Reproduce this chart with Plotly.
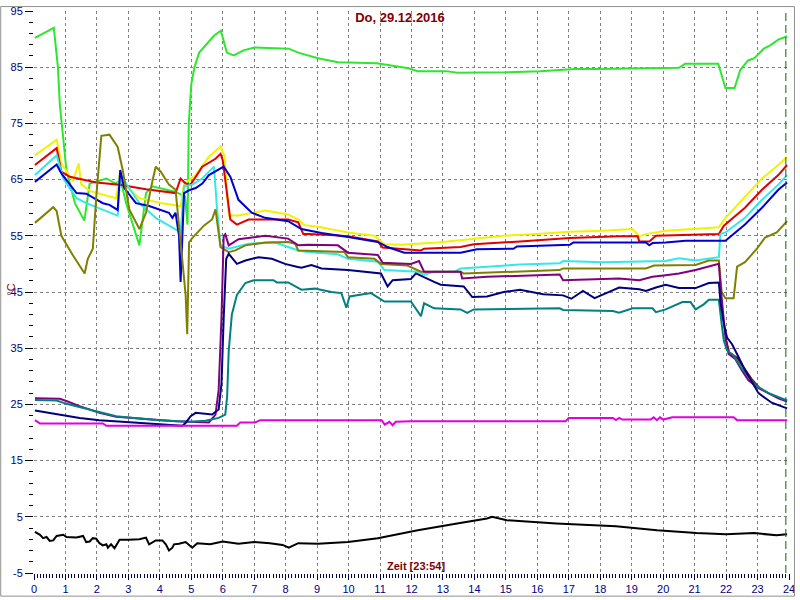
import plotly.graph_objects as go

# ---------------- data (hour of day, °C) ----------------
green_x = [0.03, 0.63, 0.76, 0.82, 1.03, 1.3, 1.6, 1.77, 2.3, 2.6, 2.75, 2.93, 3.35, 3.56, 3.76, 4.5, 4.8, 4.88, 4.92, 5.0, 5.1, 5.25, 5.72, 5.94, 6.13, 6.35, 6.66, 7.0, 8.1, 8.4, 9.03, 9.66, 10.9, 11.2, 11.9, 12.2, 13.1, 13.45, 14.7, 15.03, 16.1, 17.2, 17.9, 20.5, 20.7, 21.75, 21.98, 22.27, 22.45, 22.7, 22.9, 23.2, 23.4, 23.66, 23.94]
green_y = [90.2, 92.0, 85.0, 78.4, 66.7, 60.8, 57.7, 64.3, 65.2, 64.3, 65.0, 60.8, 53.3, 62.6, 63.8, 62.8, 62.0, 57.0, 75.0, 82.0, 85.0, 87.6, 90.6, 91.5, 87.6, 87.1, 88.0, 88.5, 88.3, 87.6, 86.6, 85.9, 85.7, 85.4, 84.8, 84.3, 84.3, 84.0, 84.0, 84.1, 84.3, 84.7, 84.7, 84.9, 85.6, 85.6, 81.3, 81.3, 84.5, 86.2, 86.6, 88.3, 88.9, 89.9, 90.5]

yellow_x = [0.03, 0.72, 0.87, 1.24, 1.42, 1.5, 1.77, 2.61, 2.74, 2.93, 3.35, 4.07, 4.66, 4.77, 4.93, 5.14, 5.56, 5.93, 6.06, 6.19, 6.5, 6.92, 7.35, 8.08, 8.4, 8.6, 9.03, 9.98, 10.82, 11.14, 11.66, 12.82, 13.87, 14.93, 15.98, 17.03, 18.08, 19.03, 19.24, 19.45, 20.08, 21.77, 21.98, 22.6, 23.14, 23.66, 23.94]
yellow_y = [69.3, 72.1, 67.9, 64.7, 67.9, 64.2, 63.0, 61.7, 66.4, 63.8, 61.7, 60.8, 60.3, 64.3, 64.9, 65.8, 69.1, 70.9, 69.1, 58.6, 58.6, 59.1, 59.5, 58.8, 57.9, 56.9, 56.6, 55.6, 55.0, 53.5, 53.4, 53.8, 54.4, 55.0, 55.3, 55.7, 55.9, 56.2, 54.9, 55.3, 55.9, 56.5, 58.2, 62.0, 65.2, 67.6, 69.0]

red_x = [0.03, 0.72, 0.87, 1.14, 1.98, 2.72, 3.56, 4.5, 4.66, 4.82, 4.98, 5.35, 5.77, 5.93, 6.0, 6.24, 6.45, 6.82, 8.08, 8.4, 8.56, 8.72, 9.56, 9.98, 10.93, 11.08, 12.3, 12.4, 13.56, 13.98, 15.45, 17.03, 18.6, 19.19, 19.24, 19.56, 19.77, 21.77, 21.93, 22.6, 23.14, 23.66, 23.94]
red_y = [67.6, 70.6, 66.4, 65.5, 64.5, 64.1, 63.3, 62.6, 65.2, 64.3, 64.1, 67.3, 68.7, 69.6, 68.4, 57.9, 57.0, 57.9, 57.9, 57.4, 55.3, 55.3, 55.1, 54.9, 54.0, 52.9, 52.4, 52.7, 53.0, 53.5, 54.0, 54.6, 54.9, 54.9, 54.0, 54.0, 55.0, 55.3, 56.8, 60.0, 63.2, 65.8, 67.6]

cyan_x = [0.03, 0.72, 0.93, 1.35, 1.66, 2.66, 2.74, 2.93, 3.35, 3.87, 4.66, 4.77, 5.03, 5.35, 5.72, 5.82, 5.93, 6.19, 6.82, 7.66, 8.08, 8.4, 8.72, 9.66, 9.98, 10.93, 11.14, 12.19, 12.4, 12.72, 13.35, 13.56, 14.4, 15.45, 16.71, 16.82, 18.08, 19.03, 20.08, 20.5, 21.03, 21.77, 21.82, 21.98, 22.6, 23.14, 23.66, 23.94]
cyan_y = [65.8, 69.3, 65.2, 61.7, 60.8, 58.6, 66.1, 64.3, 60.8, 58.2, 55.6, 63.8, 64.1, 65.2, 67.3, 59.7, 53.3, 52.7, 53.6, 53.8, 53.0, 52.4, 52.1, 51.7, 50.9, 50.4, 48.9, 48.6, 48.1, 48.6, 48.6, 49.2, 49.5, 49.9, 50.1, 50.5, 50.3, 50.4, 50.5, 51.0, 50.6, 51.2, 55.3, 55.6, 58.2, 61.4, 64.1, 65.8]

blue_x = [0.03, 0.72, 0.87, 1.35, 1.66, 2.19, 2.4, 2.66, 2.74, 2.87, 3.24, 3.66, 4.29, 4.4, 4.5, 4.61, 4.66, 4.71, 4.77, 4.93, 5.14, 5.35, 5.56, 6.03, 6.24, 6.5, 6.92, 7.35, 8.08, 8.5, 9.14, 9.98, 10.93, 11.24, 11.77, 13.56, 14.08, 15.24, 15.35, 17.03, 17.14, 19.45, 19.56, 19.66, 20.08, 20.71, 21.98, 22.6, 23.14, 23.66, 23.94]
blue_y = [64.6, 67.7, 66.1, 62.6, 62.5, 60.8, 60.5, 59.6, 66.7, 63.5, 60.8, 60.3, 59.1, 58.2, 59.1, 55.0, 46.8, 53.3, 62.6, 63.1, 63.5, 64.3, 65.8, 67.3, 65.5, 61.4, 59.1, 58.2, 57.6, 56.2, 55.5, 54.8, 53.9, 53.0, 52.0, 52.0, 52.6, 52.7, 53.1, 53.4, 53.8, 53.8, 53.3, 53.7, 53.8, 54.1, 54.1, 57.0, 60.0, 63.2, 64.5]

olive_x = [0.03, 0.61, 0.72, 0.87, 1.24, 1.61, 1.71, 1.87, 1.98, 2.14, 2.4, 2.66, 2.82, 3.03, 3.35, 3.56, 3.77, 3.87, 4.03, 4.29, 4.5, 4.82, 4.87, 4.93, 5.03, 5.4, 5.66, 5.77, 5.93, 6.19, 6.4, 6.72, 7.35, 8.08, 8.3, 8.4, 9.87, 9.98, 10.82, 11.03, 11.87, 12.09, 12.3, 13.56, 13.66, 16.71, 16.82, 19.45, 19.71, 21.03, 21.45, 21.77, 21.86, 21.98, 22.24, 22.35, 22.6, 22.98, 23.24, 23.61, 23.94]
olive_y = [57.3, 60.1, 59.4, 55.0, 51.5, 48.3, 50.9, 52.7, 62.0, 72.8, 73.0, 70.8, 66.7, 59.7, 56.2, 59.1, 64.9, 67.3, 66.4, 64.1, 63.2, 44.5, 37.5, 53.8, 54.6, 56.8, 57.9, 59.7, 53.0, 52.1, 52.4, 53.3, 53.8, 53.9, 53.6, 52.4, 52.1, 51.2, 50.9, 50.0, 49.7, 49.2, 48.6, 48.6, 48.3, 48.9, 49.2, 49.2, 49.7, 49.8, 50.6, 50.6, 45.0, 43.9, 43.9, 49.5, 50.3, 52.7, 54.7, 55.6, 57.6]

purple_x = [0.03, 0.82, 1.03, 1.45, 2.08, 2.61, 3.35, 3.98, 4.5, 4.93, 5.56, 5.77, 5.87, 5.96, 6.03, 6.08, 6.19, 6.5, 7.35, 8.08, 8.4, 8.72, 9.66, 9.98, 10.93, 11.08, 11.98, 12.24, 12.4, 13.56, 13.61, 14.4, 16.71, 16.82, 18.6, 19.24, 19.66, 20.08, 20.5, 21.03, 21.77, 21.82, 21.93, 21.98, 22.08, 22.29, 22.5, 22.71, 23.03, 23.35, 23.66, 23.94]
purple_y = [26.1, 26.0, 25.6, 24.7, 23.5, 22.8, 22.5, 22.2, 22.0, 21.9, 21.8, 23.2, 27.6, 40.4, 55.0, 55.3, 53.3, 54.4, 55.0, 54.5, 53.3, 53.4, 53.3, 52.0, 51.6, 50.2, 50.0, 50.5, 48.6, 48.6, 47.4, 47.7, 48.1, 47.1, 47.4, 47.1, 47.7, 48.0, 48.3, 48.9, 50.0, 46.3, 40.4, 36.9, 34.0, 33.1, 31.1, 29.3, 27.9, 27.0, 26.1, 25.5]

maroon_x = [21.98, 22.1, 22.35, 22.55, 22.8, 23.05]
maroon_y = [36.9, 34.2, 33.3, 31.6, 29.6, 28.0]

navy_x = [0.03, 0.82, 1.45, 2.08, 3.35, 3.98, 4.71, 4.82, 4.98, 5.14, 5.66, 5.87, 5.96, 6.03, 6.11, 6.19, 6.45, 6.72, 7.14, 7.56, 7.98, 8.35, 8.5, 8.82, 9.14, 9.98, 10.61, 11.03, 11.24, 11.4, 11.98, 12.14, 12.72, 12.93, 13.66, 13.93, 14.4, 14.93, 15.45, 16.19, 16.82, 17.08, 17.45, 17.82, 18.19, 18.6, 19.24, 19.45, 19.77, 20.08, 20.5, 21.03, 21.45, 21.77, 21.82, 21.93, 22.03, 22.19, 22.4, 22.6, 23.03, 23.45, 23.94]
navy_y = [23.9, 23.2, 22.6, 22.2, 21.7, 21.4, 21.2, 21.7, 22.9, 23.5, 23.2, 24.1, 28.7, 40.4, 50.9, 51.8, 50.0, 50.6, 51.2, 50.9, 50.0, 49.5, 49.3, 49.8, 49.2, 48.9, 48.6, 48.3, 46.0, 47.1, 47.3, 48.3, 46.8, 46.3, 46.0, 44.1, 44.2, 45.0, 45.4, 44.6, 44.4, 43.8, 45.2, 43.9, 44.8, 45.8, 45.5, 45.2, 45.8, 46.3, 45.7, 45.7, 46.6, 46.7, 43.3, 39.3, 36.9, 35.7, 33.4, 31.1, 27.0, 25.3, 24.3]

teal_x = [0.03, 0.72, 1.03, 1.45, 2.08, 2.61, 3.35, 3.98, 4.93, 5.45, 5.87, 6.08, 6.14, 6.19, 6.29, 6.45, 6.72, 6.98, 7.61, 7.72, 8.08, 8.4, 8.5, 8.93, 9.45, 9.77, 9.93, 10.03, 10.71, 11.14, 11.98, 12.3, 12.4, 12.72, 13.56, 13.77, 13.98, 16.71, 16.82, 18.4, 18.6, 19.03, 19.66, 19.77, 20.08, 20.61, 20.87, 21.03, 21.29, 21.45, 21.77, 21.86, 21.93, 22.03, 22.24, 22.5, 22.92, 23.35, 23.77, 23.94]
teal_y = [25.8, 25.7, 25.1, 24.5, 23.7, 22.9, 22.5, 22.2, 21.9, 22.1, 22.6, 23.2, 26.4, 34.6, 41.0, 44.5, 46.6, 47.1, 47.1, 46.7, 46.7, 45.6, 45.4, 45.6, 45.0, 44.8, 42.2, 44.2, 44.8, 43.3, 43.3, 40.7, 43.0, 42.1, 41.9, 41.3, 41.9, 42.1, 41.8, 41.6, 41.3, 42.1, 42.1, 41.4, 41.9, 43.2, 43.2, 41.9, 42.8, 43.6, 43.6, 39.3, 36.3, 34.6, 33.7, 31.4, 28.5, 27.0, 26.1, 25.7]

magenta_x = [0.03, 0.19, 2.19, 2.3, 6.45, 6.56, 7.03, 7.19, 11.05, 11.15, 11.3, 11.4, 11.5, 12.0, 16.9, 17.0, 18.4, 18.5, 18.6, 18.7, 19.6, 19.7, 19.8, 19.9, 20.0, 20.29, 22.24, 22.35, 23.94]
magenta_y = [22.2, 21.6, 21.6, 21.2, 21.2, 21.8, 21.8, 22.2, 22.2, 21.4, 21.9, 21.3, 21.9, 22.0, 22.0, 22.6, 22.6, 22.2, 22.6, 22.3, 22.3, 22.7, 22.2, 22.7, 22.3, 22.7, 22.7, 22.2, 22.2]

black_x = [0.03, 0.19, 0.29, 0.4, 0.5, 0.61, 0.72, 0.93, 1.03, 1.35, 1.56, 1.66, 1.77, 1.87, 1.98, 2.08, 2.19, 2.3, 2.35, 2.45, 2.56, 2.72, 3.0, 3.35, 3.56, 3.66, 3.87, 4.08, 4.19, 4.29, 4.4, 4.45, 4.61, 4.82, 5.03, 5.19, 5.6, 6.0, 6.5, 7.0, 7.5, 7.9, 8.1, 8.4, 9.03, 9.98, 10.93, 12.2, 13.45, 14.4, 14.56, 15.03, 16.6, 18.5, 19.8, 21.06, 22.0, 22.9, 23.6, 23.94]
black_y = [2.3, 1.8, 1.2, 1.4, 0.7, 0.8, 1.6, 1.8, 1.4, 1.3, 1.6, 0.5, 0.6, 1.2, 1.1, 0.3, -0.1, 0.1, -0.5, 0.1, -0.6, 0.9, 0.9, 1.0, 1.3, 0.1, 0.8, 0.8, 0.1, -1.0, -0.5, 0.1, 0.2, 0.5, -0.5, 0.3, 0.1, 0.6, 0.2, 0.5, 0.3, 0.0, -0.5, 0.3, 0.2, 0.5, 1.2, 2.6, 3.8, 4.7, 5.0, 4.4, 3.8, 3.3, 2.6, 2.1, 1.9, 2.1, 1.7, 1.9]

series = [
    ("green", green_x, green_y, "#2EE62E"),
    ("yellow", yellow_x, yellow_y, "#F2F200"),
    ("red", red_x, red_y, "#E00000"),
    ("cyan", cyan_x, cyan_y, "#33E8E8"),
    ("blue", blue_x, blue_y, "#0000D0"),
    ("olive", olive_x, olive_y, "#808000"),
    ("maroon", maroon_x, maroon_y, "#800000"),
    ("purple", purple_x, purple_y, "#800080"),
    ("teal", teal_x, teal_y, "#008080"),
    ("navy", navy_x, navy_y, "#000080"),
    ("magenta", magenta_x, magenta_y, "#E000E0"),
    ("black", black_x, black_y, "#000000"),
]

y_tick_vals = [-5, 5, 15, 25, 35, 45, 55, 65, 75, 85, 95]
y_tick_text = ["-5", "5", "15", "25", "35", "45", "55", "65", "75", "85", "95"]
x_tick_vals = list(range(0, 25))
x_tick_text = [str(h) for h in x_tick_vals]

title_text = "Do, 29.12.2016"
now_hour = 23 + 54 / 60
x_title = "Zeit [23:54]"
y_title = "°C"

FONT = "Liberation Sans, Arial, sans-serif"
DARKRED = "#800000"
NAVY = "#000080"

fig = go.Figure()
for name, xs, ys, col in series:
    fig.add_trace(go.Scatter(x=xs, y=ys, mode="lines", name=name,
                             line=dict(color=col, width=2), hoverinfo="skip"))

fig.update_layout(
    width=800, height=600,
    margin=dict(l=34, r=6, t=5, b=24),
    paper_bgcolor="white", plot_bgcolor="white",
    showlegend=False,
    font=dict(family=FONT, size=11, color=NAVY),
    title=dict(text="<b>" + title_text + "</b>", x=0.5, xref="container", xanchor="center",
               y=1 - 17 / 600, yref="container", yanchor="middle",
               font=dict(family=FONT, size=13, color=DARKRED)),
)

fig.update_xaxes(
    range=[0, 24], tickmode="array", tickvals=x_tick_vals, ticktext=x_tick_text,
    showgrid=True, gridcolor="#808080", gridwidth=1, griddash="3px,3px",
    ticks="outside", ticklen=6, tickcolor="#000040", tickwidth=1,
    showline=False, zeroline=False, ticklabeloverflow="allow",
    tickfont=dict(family=FONT, size=11, color=NAVY),
    minor=dict(tick0=0, dtick=0.1, ticks="outside", ticklen=4, tickcolor="#000040", showgrid=False),
)
fig.update_yaxes(
    range=[-5, 95], tickmode="array", tickvals=y_tick_vals, ticktext=y_tick_text,
    showgrid=True, gridcolor="#808080", gridwidth=1, griddash="3px,3px",
    ticks="outside", ticklen=8, tickcolor="#000000", tickwidth=1,
    showline=False, zeroline=False, ticklabeloverflow="allow",
    tickfont=dict(family=FONT, size=11, color=NAVY),
    minor=dict(tick0=-5, dtick=2, ticks="outside", ticklen=4, tickcolor="#000000", showgrid=False),
)

# current-time marker
fig.add_shape(type="line", xref="x", yref="paper", x0=now_hour, x1=now_hour, y0=0, y1=1,
              line=dict(color="#007000", width=1, dash="8px,4px"))

# outer frame of the picture
fig.add_shape(type="rect", xref="paper", yref="paper",
              x0=-33.5 / 760, x1=765.5 / 760, y0=-23.5 / 571, y1=575.5 / 571,
              line=dict(color="#909090", width=1), layer="above")

fig.add_annotation(text="<b>" + x_title + "</b>", xref="paper", yref="paper",
                   x=(419 - 34) / 760, y=(576 - 569) / 571, showarrow=False,
                   xanchor="center", yanchor="middle",
                   font=dict(family=FONT, size=11, color=DARKRED))
fig.add_annotation(text=y_title, xref="paper", yref="paper",
                   x=(10 - 34) / 760, y=(576 - 288) / 571, showarrow=False, textangle=-90,
                   xanchor="center", yanchor="middle",
                   font=dict(family=FONT, size=11, color=DARKRED))

fig.write_html("out.html", config={"displayModeBar": False},
               post_script="document.body.style.margin='0';document.body.style.overflow='hidden';")
